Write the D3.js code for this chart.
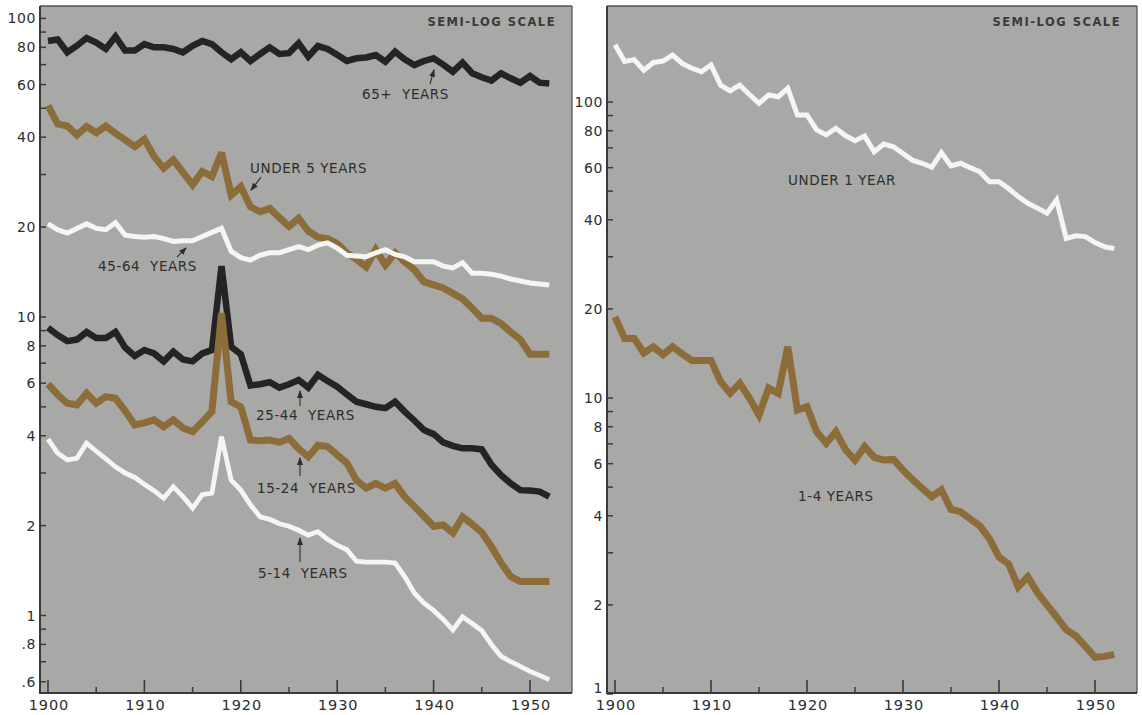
<!DOCTYPE html>
<html><head><meta charset="utf-8">
<script src="https://cdn.jsdelivr.net/npm/d3@7"></script>
<style>
body{margin:0;background:#fff;}
svg{display:block;}
text{font-family:"DejaVu Sans",sans-serif;fill:#2e2e2e;white-space:pre;}
</style></head><body>
<svg id="chart" width="1142" height="715"></svg>
<script>
// ---------- data (deaths per 1,000 population, by age) ----------
const years = d3.range(1900, 1953);

const age65Plus = [84,85,77,81,86,83,79,87,78,78, 82,80,80,79,77,81,84,82,77,73,
  77,72,76,80,76,76.5,82.5,74.5,80.8,79, 75.5,72,73.5,74,75.4,71.6,77.4,73,69.8,72,
  73.5,70,66.3,71.1,65.5,63.5,61.9,65.5,63,60.9, 64.1,60.9,60.5];
const under5 = [51,44.3,43.6,40.7,43.4,41.4,43.6,41.2,39.2,37.2, 39.4,34.5,31.5,33.6,30.5,27.7,30.7,29.5,35.5,25.6,
  27.3,23.4,22.5,23.1,21.5,20.1,21.4,19.4,18.5,18.3, 17.6,16.4,15.6,14.7,16.8,14.9,16.4,15.3,14.4,13.1,
  12.8,12.5,12.0,11.5,10.7,9.9,9.9,9.5,8.9,8.4, 7.5,7.5,7.5];
const age45to64 = [20.5,19.6,19.1,19.8,20.5,19.8,19.6,20.7,18.8,18.6, 18.5,18.6,18.3,17.9,18.0,18.0,18.6,19.2,19.8,16.6,
  15.8,15.5,16.1,16.4,16.4,16.8,17.2,16.8,17.4,17.7, 17.0,16.1,16.0,15.9,16.4,16.8,16.2,15.9,15.3,15.3,
  15.3,14.8,14.6,15.2,14.0,14.0,13.9,13.7,13.4,13.2, 13.0,12.9,12.8];
const age25to44 = [9.2,8.7,8.3,8.4,8.9,8.5,8.5,8.9,7.9,7.4, 7.75,7.55,7.1,7.65,7.2,7.1,7.55,7.75,14.8,7.95,
  7.5,5.9,5.95,6.05,5.8,5.95,6.15,5.8,6.4,6.1, 5.84,5.5,5.2,5.1,5.0,4.95,5.2,4.82,4.5,4.18,
  4.05,3.8,3.7,3.63,3.63,3.6,3.2,2.95,2.77,2.63, 2.62,2.6,2.5];
const age15to24 = [5.96,5.5,5.14,5.07,5.55,5.14,5.41,5.34,4.85,4.35, 4.42,4.52,4.29,4.52,4.25,4.13,4.45,4.82,10.3,5.2,
  5.0,3.87,3.85,3.87,3.8,3.92,3.62,3.4,3.72,3.68, 3.45,3.24,2.84,2.67,2.77,2.67,2.77,2.5,2.32,2.15,
  1.99,2.01,1.89,2.14,2.02,1.9,1.7,1.5,1.35,1.3, 1.3,1.3,1.3];
const age5to14 = [3.9,3.5,3.32,3.36,3.78,3.55,3.35,3.15,3.0,2.9, 2.75,2.62,2.47,2.7,2.5,2.29,2.54,2.57,3.97,2.84,
  2.63,2.35,2.14,2.1,2.03,1.99,1.93,1.86,1.91,1.8, 1.72,1.66,1.52,1.51,1.51,1.51,1.5,1.35,1.19,1.1,
  1.04,0.97,0.895,0.99,0.94,0.89,0.8,0.73,0.7,0.675, 0.65,0.63,0.61];
const under1 = [156,137,139,128,136,137.5,144,135,130,126.6, 133.4,114,109,114,106,99,105.6,104.2,111.2,90.4,
  90.4,80.5,77.4,81.5,77,74,76.7,67.9,72.1,70.6, 67,63.5,62.1,60.2,67.4,60.8,62.1,60,58.1,53.8,
  53.8,51,47.9,45.5,43.8,42.1,46.7,34.6,35.3,35.1, 33.5,32.4,32.0];
const age1to4 = [18.8,15.9,15.9,14.2,14.9,14.0,14.9,14.1,13.4,13.4, 13.4,11.35,10.37,11.2,10.0,8.76,10.8,10.37,14.9,9.11,
  9.35,7.69,7.03,7.69,6.7,6.17,6.85,6.3,6.17,6.2, 5.71,5.3,4.95,4.64,4.89,4.2,4.13,3.9,3.7,3.35,
  2.9,2.75,2.3,2.49,2.2,2.0,1.82,1.65,1.57,1.45, 1.33,1.34,1.36];

const xMajorTicks = [1900,1910,1920,1930,1940,1950];
const xMinorTicks = [1905,1915,1925,1935,1945];
const yLabelsLeft = [100,80,60,40,20,10,8,6,4,2,1,0.8,0.6];
const yMinorLeft = [90,70,50,30,9,7,5,3,0.9,0.7];
const yLabelsRight = [100,80,60,40,20,10,8,6,4,2,1];
const yMinorRight = [90,70,50,30,9,7,5,3];

const INK = "#2e2e2e", BLACK = "#242424", BROWN = "#8c6c38", WHITE = "#f5f5f3", BG = "#a8a8a6";

// ---------- panels ----------
const panels = [
  { id:"L", box:{x0:40, x1:572, y0:6, y1:693},
    x: d3.scaleLinear().domain([1900,1950]).range([48,530]),
    y: d3.scaleLog().domain([1,100]).range([615.5,18.4]),
    yLabels: yLabelsLeft, yMinor: yMinorLeft,
    series: [
      {values: age65Plus, color: BLACK, w: 6.5},
      {values: under5, color: BROWN, w: 7},
      {values: age45to64, color: WHITE, w: 5},
      {values: age25to44, color: BLACK, w: 6.5},
      {values: age15to24, color: BROWN, w: 7},
      {values: age5to14, color: WHITE, w: 4.8}
    ],
    labels: [
      {t:"65+  YEARS", yr:1932.57, v:53.7, arrow:[[1939.63,60.3],[1940.04,67.2]]},
      {t:"UNDER 5 YEARS", yr:1920.95, v:30.35, arrow:[[1922.1,29.4],[1921.06,26.6]]},
      {t:"45-64  YEARS", yr:1905.19, v:14.26, arrow:[[1913.38,15.88],[1914.32,17.02]]},
      {t:"25-44  YEARS", yr:1921.58, v:4.52, arrow:[[1926.14,5.03],[1926.14,5.65]]},
      {t:"15-24  YEARS", yr:1921.68, v:2.574, arrow:[[1926.14,2.934],[1926.14,3.372]]},
      {t:"5-14  YEARS", yr:1921.78, v:1.337, arrow:[[1926.14,1.512],[1926.14,1.819]]}
    ]},
  { id:"R", box:{x0:607, x1:1137, y0:6, y1:693},
    x: d3.scaleLinear().domain([1900,1950]).range([615,1095]),
    y: d3.scaleLog().domain([1,100]).range([694,102]),
    yLabels: yLabelsRight, yMinor: yMinorRight,
    series: [
      {values: under1, color: WHITE, w: 5},
      {values: age1to4, color: BROWN, w: 7}
    ],
    labels: [
      {t:"UNDER 1 YEAR", yr:1918.02, v:52.4},
      {t:"1-4 YEARS", yr:1919.06, v:4.49}
    ]}
];

const svg = d3.select("#chart");
const defs = svg.append("defs");
defs.append("marker").attr("id","ah").attr("viewBox","0 0 8 6")
  .attr("refX",7).attr("refY",3).attr("markerWidth",8).attr("markerHeight",6)
  .attr("markerUnits","userSpaceOnUse").attr("orient","auto")
  .append("path").attr("d","M0,0 L8,3 L0,6 Z").attr("fill",INK);

const fmt = v => v < 1 ? String(v).replace(/^0/, "") : String(v);

panels.forEach(p => {
  const b = p.box;
  const g = svg.append("g");
  defs.append("clipPath").attr("id","clip"+p.id).append("rect")
    .attr("x",b.x0).attr("y",b.y0).attr("width",b.x1-b.x0).attr("height",b.y1-b.y0);
  g.append("rect").attr("x",b.x0).attr("y",b.y0).attr("width",b.x1-b.x0).attr("height",b.y1-b.y0)
    .attr("fill",BG);

  // series lines
  const line = d3.line().x((d,i)=>p.x(years[i])).y(d=>p.y(d));
  const lg = g.append("g").attr("clip-path",`url(#clip${p.id})`);
  p.series.forEach(s => {
    lg.append("path").datum(s.values).attr("d",line)
      .attr("fill","none").attr("stroke",s.color).attr("stroke-width",s.w)
      .attr("stroke-linejoin","miter").attr("stroke-miterlimit",3).attr("stroke-linecap","butt");
  });

  // frame
  g.append("line").attr("x1",b.x0).attr("x2",b.x1).attr("y1",b.y0).attr("y2",b.y0).attr("stroke","#555").attr("stroke-width",1.3);
  g.append("line").attr("x1",b.x1).attr("x2",b.x1).attr("y1",b.y0).attr("y2",b.y1).attr("stroke","#555").attr("stroke-width",1.3);
  g.append("line").attr("x1",b.x0).attr("x2",b.x0).attr("y1",b.y0).attr("y2",b.y1+1).attr("stroke","#3a3a3a").attr("stroke-width",2);
  g.append("line").attr("x1",b.x0-1).attr("x2",b.x1).attr("y1",b.y1).attr("y2",b.y1).attr("stroke","#3a3a3a").attr("stroke-width",2);

  // y ticks
  p.yLabels.concat(p.yMinor).forEach(v => {
    g.append("line").attr("x1",b.x0).attr("x2",b.x0+6).attr("y1",p.y(v)).attr("y2",p.y(v))
      .attr("stroke","#3a3a3a").attr("stroke-width",1.5);
  });
  p.yLabels.forEach(v => {
    g.append("text").attr("x",b.x0-4).attr("y",Math.min(p.y(v), b.y1-5)).attr("dy","0.36em")
      .attr("text-anchor","end").attr("font-size",14).attr("letter-spacing",0.6).text(fmt(v));
  });

  // x ticks
  xMajorTicks.forEach(yr => {
    g.append("line").attr("x1",p.x(yr)).attr("x2",p.x(yr)).attr("y1",b.y1).attr("y2",b.y1-13)
      .attr("stroke","#3a3a3a").attr("stroke-width",1.6);
    g.append("text").attr("x",p.x(yr)+1).attr("y",710).attr("text-anchor","middle")
      .attr("font-size",14.5).attr("letter-spacing",0.9).text(yr);
  });
  xMinorTicks.forEach(yr => {
    g.append("line").attr("x1",p.x(yr)).attr("x2",p.x(yr)).attr("y1",b.y1).attr("y2",b.y1-6)
      .attr("stroke","#3a3a3a").attr("stroke-width",1.5);
  });

  // scale note
  g.append("text").attr("x",b.x1-16).attr("y",b.y0+20).attr("text-anchor","end")
    .attr("font-size",11.5).attr("font-weight","bold").attr("letter-spacing",1.5)
    .style("fill","#3a3a3a").text("SEMI-LOG SCALE");

  // labels and arrows
  p.labels.forEach(l => {
    g.append("text").attr("x",p.x(l.yr)).attr("y",p.y(l.v))
      .attr("font-size",13.5).attr("letter-spacing",0.6).text(l.t);
    if (l.arrow) {
      g.append("line")
        .attr("x1",p.x(l.arrow[0][0])).attr("y1",p.y(l.arrow[0][1]))
        .attr("x2",p.x(l.arrow[1][0])).attr("y2",p.y(l.arrow[1][1]))
        .attr("stroke",INK).attr("stroke-width",1.1).attr("marker-end","url(#ah)");
    }
  });
});
</script>
</body></html>
